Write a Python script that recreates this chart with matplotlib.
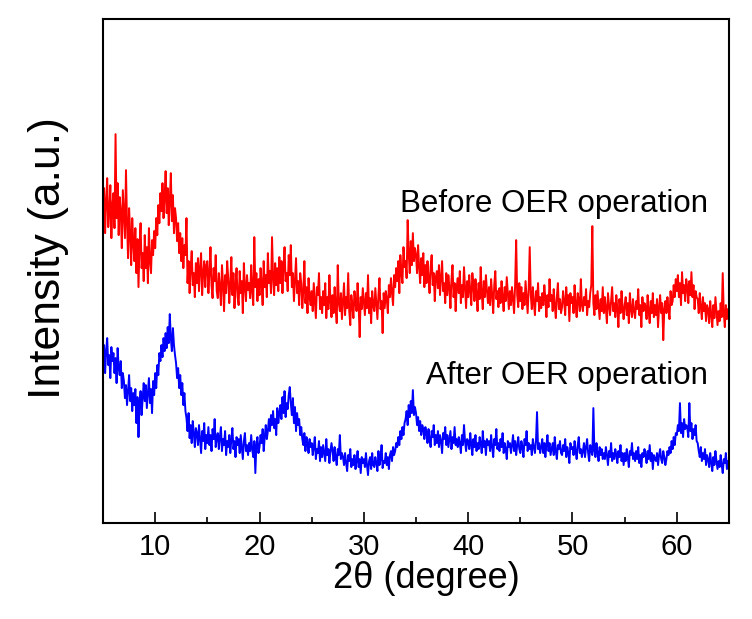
import numpy as np
import matplotlib
matplotlib.use("Agg")
import matplotlib.pyplot as plt
from matplotlib.ticker import MultipleLocator

# 2theta grid: 5.0 to 65.0 in 0.1 degree steps (one row = one degree)
two_theta = np.round(np.arange(5.0, 65.05, 0.1), 1)

# Before OER operation (red, upper trace), intensity in a.u. as displayed
before_oer = [
    300, 335, 290, 322, 345, 296, 310, 338, 285, 318,   # 5
    330, 295, 389, 305, 340, 288, 326, 312, 275, 333,   # 6
    310, 285, 353, 300, 265, 315, 290, 258, 305, 280,   # 7
    262, 295, 250, 284, 236, 278, 300, 255, 270, 242,   # 8
    288, 255, 276, 240, 295, 262, 250, 283, 268, 292,   # 9
    275, 305, 288, 318, 300, 330, 312, 340, 305, 325,   # 10
    352, 310, 335, 298, 322, 350, 302, 328, 290, 315,   # 11
    305, 282, 300, 270, 290, 262, 285, 255, 278, 268,   # 12
    305, 240, 262, 230, 255, 272, 238, 250, 226, 260,   # 13
    240, 265, 232, 255, 270, 228, 250, 262, 236, 258,   # 14
    262, 230, 250, 276, 238, 225, 255, 242, 268, 232,   # 15
    225, 250, 236, 218, 258, 240, 212, 248, 230, 262,   # 16
    245, 220, 240, 266, 228, 250, 215, 238, 255, 226,   # 17
    218, 252, 230, 242, 210, 260, 236, 222, 248, 233,   # 18
    240, 225, 258, 232, 218, 286, 236, 250, 222, 244,   # 19
    228, 255, 240, 218, 262, 236, 248, 226, 270, 240,   # 20
    252, 230, 286, 245, 228, 260, 238, 255, 232, 266,   # 21
    240, 262, 230, 256, 276, 242, 250, 232, 268, 248,   # 22
    278, 236, 250, 222, 244, 265, 230, 242, 218, 250,   # 23
    240, 215, 232, 262, 220, 236, 210, 245, 226, 218,   # 24
    232, 212, 240, 222, 205, 236, 228, 250, 214, 226,   # 25
    210, 232, 218, 240, 205, 226, 214, 248, 222, 206,   # 26
    228, 210, 236, 216, 200, 258, 220, 212, 230, 204,   # 27
    222, 240, 208, 226, 215, 250, 212, 198, 228, 218,   # 28
    205, 232, 220, 212, 240, 218, 186, 226, 214, 235,   # 29
    222, 208, 230, 215, 248, 210, 225, 200, 232, 218,   # 30
    212, 235, 220, 204, 228, 245, 214, 222, 190, 230,   # 31
    215, 232, 224, 210, 238, 226, 245, 230, 218, 248,   # 32
    236, 255, 242, 262, 230, 268, 250, 240, 276, 256,   # 33
    262, 245, 303, 270, 250, 282, 258, 290, 262, 275,   # 34
    268, 250, 278, 256, 240, 265, 248, 270, 236, 258,   # 35
    240, 262, 245, 230, 256, 268, 238, 250, 222, 246,   # 36
    252, 235, 258, 228, 245, 262, 232, 240, 220, 250,   # 37
    228, 248, 236, 215, 244, 258, 226, 240, 212, 236,   # 38
    245, 230, 252, 220, 238, 226, 256, 235, 215, 242,   # 39
    226, 248, 232, 218, 250, 238, 222, 244, 230, 212,   # 40
    240, 224, 256, 230, 214, 242, 226, 248, 232, 220,   # 41
    236, 218, 244, 228, 210, 238, 252, 224, 232, 216,   # 42
    235, 220, 242, 226, 212, 236, 222, 246, 230, 214,   # 43
    232, 218, 236, 224, 210, 238, 283, 228, 216, 240,   # 44
    222, 236, 214, 230, 218, 242, 226, 210, 234, 276,   # 45
    228, 214, 236, 220, 208, 232, 222, 240, 212, 226,   # 46
    215, 230, 218, 238, 224, 206, 228, 216, 244, 222,   # 47
    228, 212, 234, 218, 205, 226, 240, 214, 224, 210,   # 48
    216, 232, 222, 208, 236, 218, 228, 202, 230, 220,   # 49
    226, 210, 238, 218, 206, 230, 222, 212, 244, 218,   # 50
    212, 226, 218, 234, 208, 222, 216, 230, 238, 297,   # 51
    220, 208, 228, 214, 232, 218, 204, 224, 212, 236,   # 52
    210, 226, 214, 200, 230, 218, 208, 222, 236, 212,   # 53
    220, 206, 228, 214, 196, 224, 210, 232, 216, 204,   # 54
    218, 226, 208, 220, 200, 230, 214, 206, 224, 212,   # 55
    205, 222, 214, 234, 208, 218, 196, 226, 212, 220,   # 56
    216, 204, 228, 212, 200, 222, 210, 230, 206, 218,   # 57
    208, 224, 196, 216, 228, 210, 220, 183, 214, 222,   # 58
    210, 226, 214, 204, 232, 218, 222, 238, 226, 244,   # 59
    232, 248, 226, 240, 218, 251, 230, 238, 222, 244,   # 60
    236, 220, 242, 228, 251, 226, 238, 214, 232, 226,   # 61
    224, 210, 230, 216, 204, 226, 212, 220, 202, 218,   # 62
    214, 200, 222, 208, 196, 218, 205, 226, 212, 198,   # 63
    212, 202, 220, 206, 250, 210, 196, 218, 204, 214,   # 64
    206,                                                # 65
]

# After OER operation (blue, lower trace)
after_oer = [
    160, 178, 150, 172, 185, 158, 168, 145, 176, 162,   # 5
    170, 150, 165, 140, 175, 155, 148, 162, 135, 150,   # 6
    142, 125, 138, 118, 132, 148, 122, 135, 112, 130,   # 7
    118, 134, 100, 126, 86, 120, 132, 108, 125, 140,    # 8
    122, 138, 115, 130, 145, 120, 134, 110, 142, 128,   # 9
    150, 135, 158, 148, 170, 162, 178, 166, 185, 172,   # 10
    190, 175, 196, 180, 209, 185, 172, 195, 178, 168,   # 11
    160, 145, 155, 135, 148, 128, 140, 118, 130, 112,   # 12
    105, 92, 110, 85, 98, 80, 102, 90, 76, 95,          # 13
    90, 78, 98, 84, 70, 92, 82, 100, 74, 88,            # 14
    80, 96, 78, 88, 72, 94, 84, 104, 76, 86,            # 15
    90, 74, 86, 96, 72, 84, 78, 92, 68, 82,             # 16
    76, 88, 70, 84, 95, 74, 82, 66, 86, 78,             # 17
    84, 70, 88, 76, 64, 82, 90, 72, 78, 68,             # 18
    80, 72, 88, 74, 66, 82, 50, 78, 86, 70,             # 19
    76, 88, 80, 94, 72, 86, 98, 84, 92, 104,            # 20
    92, 108, 98, 112, 95, 104, 88, 115, 100, 110,       # 21
    118, 104, 126, 110, 132, 106, 120, 114, 128, 136,   # 22
    120, 108, 125, 100, 116, 92, 110, 98, 104, 88,      # 23
    96, 84, 78, 90, 72, 86, 80, 70, 84, 76,             # 24
    80, 68, 76, 86, 64, 74, 70, 82, 62, 76,             # 25
    66, 78, 70, 62, 84, 68, 74, 60, 72, 80,             # 26
    72, 62, 76, 66, 58, 74, 68, 88, 64, 70,             # 27
    66, 58, 70, 60, 52, 68, 62, 74, 56, 64,             # 28
    58, 68, 54, 62, 72, 56, 64, 50, 66, 60,             # 29
    64, 56, 70, 58, 48, 62, 66, 54, 70, 58,             # 30
    56, 66, 60, 52, 72, 58, 64, 78, 55, 62,             # 31
    60, 70, 58, 66, 54, 68, 72, 62, 76, 68,             # 32
    72, 80, 76, 86, 78, 92, 84, 96, 88, 100,            # 33
    104, 112, 98, 118, 106, 122, 110, 133, 108, 116,    # 34
    110, 98, 106, 92, 102, 88, 98, 94, 84, 96,          # 35
    90, 80, 94, 84, 76, 92, 86, 98, 78, 88,             # 36
    80, 92, 76, 88, 82, 70, 90, 84, 96, 78,             # 37
    88, 76, 84, 92, 74, 86, 80, 96, 78, 84,             # 38
    76, 86, 80, 70, 88, 78, 98, 82, 72, 84,             # 39
    82, 74, 90, 78, 68, 84, 76, 88, 72, 80,             # 40
    74, 86, 80, 70, 92, 76, 82, 68, 84, 78,             # 41
    82, 72, 88, 76, 66, 84, 78, 94, 74, 80,             # 42
    72, 84, 76, 90, 70, 80, 74, 64, 82, 76,             # 43
    80, 70, 78, 88, 72, 82, 68, 78, 86, 74,             # 44
    70, 82, 76, 66, 84, 78, 92, 72, 80, 74,             # 45
    78, 68, 84, 76, 70, 82, 111, 74, 80, 70,            # 46
    76, 84, 70, 80, 66, 78, 88, 72, 80, 68,             # 47
    74, 80, 68, 86, 72, 64, 78, 74, 82, 70,             # 48
    68, 78, 72, 84, 66, 76, 70, 60, 80, 74,             # 49
    76, 68, 82, 72, 64, 78, 86, 70, 74, 66,             # 50
    72, 80, 66, 76, 84, 70, 62, 78, 72, 68,             # 51
    115, 72, 66, 80, 70, 62, 76, 68, 74, 64,            # 52
    70, 64, 76, 68, 58, 72, 66, 80, 62, 70,             # 53
    64, 74, 68, 60, 72, 66, 78, 62, 70, 58,             # 54
    70, 62, 74, 66, 56, 72, 68, 80, 64, 70,             # 55
    62, 72, 64, 76, 60, 68, 56, 70, 66, 74,             # 56
    68, 60, 72, 64, 78, 62, 70, 54, 68, 64,             # 57
    62, 70, 58, 68, 74, 64, 60, 72, 66, 58,             # 58
    64, 72, 68, 76, 70, 82, 74, 86, 78, 90,             # 59
    88, 98, 92, 120, 90, 100, 86, 104, 94, 98,          # 60
    96, 86, 120, 92, 100, 84, 94, 88, 98, 82,           # 61
    80, 72, 66, 76, 62, 70, 64, 74, 58, 68,             # 62
    64, 56, 70, 60, 52, 66, 58, 72, 62, 54,             # 63
    62, 56, 68, 58, 50, 64, 60, 70, 54, 62,             # 64
    58,                                                 # 65
]

labels = ["Before OER operation", "After OER operation"]


def main():
    plt.rcParams["font.family"] = ["Liberation Sans", "DejaVu Sans"]

    fig = plt.figure(figsize=(7.52, 6.19), dpi=100)
    ax = fig.add_axes([0.137, 0.155, 0.8324, 0.814])

    # thicker lines so the noisy traces read as a filled band
    ax.plot(two_theta, before_oer, color="#ff0000", lw=1.4)
    ax.plot(two_theta, after_oer, color="#0000ff", lw=1.4)

    # labels sit right-aligned above each trace
    ax.text(63.0, 311, labels[0], fontsize=22.5, ha="right", va="baseline")
    ax.text(63.0, 139, labels[1], fontsize=22.5, ha="right", va="baseline")

    ax.set_xlim(5, 65)
    ax.set_ylim(0, 504)
    ax.xaxis.set_major_locator(MultipleLocator(10))
    ax.xaxis.set_minor_locator(MultipleLocator(5))
    ax.tick_params(axis="x", which="both", direction="in", labelsize=21,
                   top=False, width=1.2, pad=7)
    ax.tick_params(axis="x", which="major", length=8)
    ax.tick_params(axis="x", which="minor", length=4)
    ax.set_yticks([])
    for s in ax.spines.values():
        s.set_linewidth(1.5)

    ax.set_xlabel("2θ (degree)", fontsize=26)
    ax.xaxis.set_label_coords(0.516, -0.075)
    ax.set_ylabel("Intensity (a.u.)", fontsize=32)
    ax.yaxis.set_label_coords(-0.054, 0.526)

    fig.savefig("out.png", dpi=100)


if __name__ == "__main__":
    main()
